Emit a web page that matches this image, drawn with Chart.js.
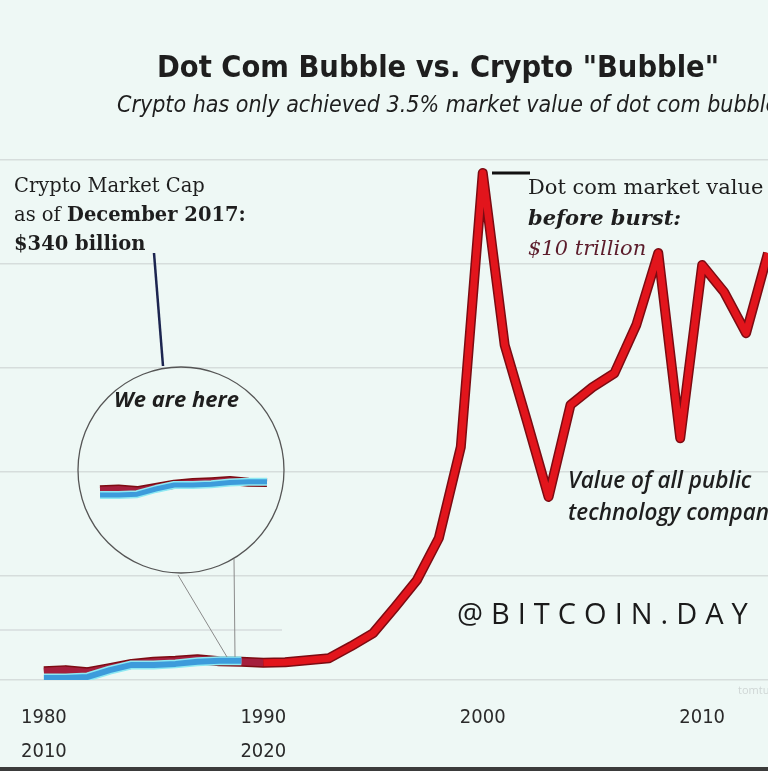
<!DOCTYPE html>
<html>
<head>
<meta charset="utf-8">
<script src="https://cdn.jsdelivr.net/npm/chart.js@4.4.1/dist/chart.umd.min.js"></script>
<style>
html, body { margin: 0; padding: 0; }
body { width: 768px; height: 771px; position: relative; overflow: hidden; background: #eef8f5; }
canvas { position: absolute; }
#mainChart { left: 0; top: 0; }
#insetChart { left: 80px; top: 430px; }
svg { position: absolute; left: 0; top: 0; }
.txt { position: absolute; white-space: nowrap; color: #1e1e1e; }
.narrow { font-family: "Liberation Sans Narrow", "DejaVu Sans Condensed", Roboto, sans-serif; }
.serif { font-family: "DejaVu Serif", "Liberation Serif", serif; }
.hand { font-family: "Open Sans", Lato, sans-serif; }
#bottomBar { position: absolute; left: 0; top: 767px; width: 768px; height: 4px; background: #3b3b3b; }
</style>
</head>
<body>
<canvas id="mainChart" width="768" height="771"></canvas>

<svg width="768" height="771">
  <!-- 放大镜圆圈和引线 -->
  <line x1="0" y1="630" x2="282" y2="630" stroke="#d6dddc" stroke-width="1.5"/>
  <circle cx="181" cy="470" r="103" fill="none" stroke="#555" stroke-width="1.3"/>
  <line x1="178" y1="575" x2="227" y2="657" stroke="#8a8a8a" stroke-width="1"/>
  <line x1="234" y1="559" x2="235" y2="657" stroke="#8a8a8a" stroke-width="1"/>
  <line x1="154" y1="253" x2="163" y2="366" stroke="#1c2550" stroke-width="2.5"/>
  <line x1="492" y1="173" x2="530" y2="173" stroke="#111" stroke-width="3"/>
</svg>

<canvas id="insetChart" width="200" height="100"></canvas>

<div class="txt narrow" style="left:157px; top:47px; font-size:30.5px; line-height:40px; font-weight:bold;">Dot Com Bubble vs. Crypto "Bubble"</div>
<div class="txt narrow" style="left:117px; top:89px; font-size:23px; line-height:30px; font-style:italic;">Crypto has only achieved 3.5% market value of dot com bubble</div>

<div class="txt serif" style="left:14px; top:171px; font-size:19.5px; line-height:29px;">
  Crypto Market Cap<br>as of <b>December 2017:</b><br><b>$340 billion</b>
</div>

<div class="txt serif" style="left:528px; top:172px; font-size:21px; line-height:30.5px;">
  Dot com market value<br><b><i>before burst:</i></b><br><i style="color:#5c1d2c;">$10 trillion</i>
</div>

<div class="txt hand" style="left:568px; top:464px; font-size:22.5px; line-height:32px; font-style:italic; font-weight:600;">
  Value of all public<br>technology companies
</div>

<div class="txt hand" style="left:114px; top:384px; font-size:22px; line-height:28px; font-style:italic; font-weight:bold;">We are here</div>

<div class="txt" style="left:457px; top:594px; font-size:29px; line-height:38px; font-family:'Open Sans', Lato, sans-serif; font-weight:500; letter-spacing:8px; color:#1a1a1a;">@BITCOIN.DAY</div>

<div class="txt" style="left:738px; top:683px; font-size:11px; line-height:14px; font-family:'Open Sans', sans-serif; color:#cfd6d5;">tomtu</div>

<div id="bottomBar"></div>

<script>
// 数据：年份和市值（万亿美元）
const years = [1980, 1981, 1982, 1983, 1984, 1985, 1986, 1987, 1988, 1989,
               1990, 1991, 1992, 1993, 1994, 1995, 1996, 1997, 1998, 1999,
               2000, 2001, 2002, 2003, 2004, 2005, 2006, 2007, 2008, 2009,
               2010, 2011, 2012, 2013];
const dotComValues = [0.17, 0.19, 0.15, 0.23, 0.31, 0.35, 0.37, 0.40, 0.36, 0.35,
                      0.33, 0.34, 0.38, 0.42, 0.65, 0.90, 1.40, 1.92, 2.73, 4.48,
                      9.75, 6.44, 5.00, 3.52, 5.29, 5.63, 5.90, 6.83, 8.21, 4.65,
                      7.98, 7.46, 6.67, 8.21];
// 加密货币 2010-2019，对齐到 1980-1989 的位置
const cryptoValues = [0.04, 0.04, 0.06, 0.19, 0.29, 0.29, 0.31, 0.35, 0.37, 0.37];
const tickYears = [1980, 1990, 2000, 2010];
const cryptoTickLabels = { 1980: '2010', 1990: '2020' };

const RED = '#e2151c';
const RED_EDGE = '#7c0b12';
const RED_CRYPTO = '#a51f3d';
const BLUE = '#3d9bdb';
const BLUE_GLOW = '#8ee9f2';
const NARROW = '"Liberation Sans Narrow", "DejaVu Sans Condensed", Roboto, sans-serif';

function toPoints(values) {
    return values.map((v, i) => ({ x: years[i], y: v }));
}

function lineSets(redWidth, blueWidth, cryptoCount) {
    const redPts = toPoints(dotComValues.slice(0, cryptoCount || dotComValues.length));
    const bluePts = toPoints(cryptoValues);
    return [
        { data: bluePts, borderColor: BLUE, borderWidth: blueWidth, order: 0 },
        { data: bluePts, borderColor: BLUE_GLOW, borderWidth: blueWidth + 3, order: 1 },
        {
            data: redPts, borderColor: RED, borderWidth: redWidth, order: 2,
            segment: { borderColor: ctx => ctx.p1.parsed.x <= 1990 ? RED_CRYPTO : undefined }
        },
        { data: redPts, borderColor: RED_EDGE, borderWidth: redWidth + 3, order: 3 }
    ].map(d => Object.assign(d, {
        pointRadius: 0,
        tension: 0,
        borderJoinStyle: 'round',
        borderCapStyle: 'butt'
    }));
}

// 主图
new Chart(document.getElementById('mainChart'), {
    type: 'line',
    data: { datasets: lineSets(7, 6) },
    options: {
        responsive: false,
        animation: false,
        layout: { padding: { top: 160, bottom: 4, left: 0, right: 0 } },
        plugins: { legend: { display: false }, tooltip: { enabled: false } },
        scales: {
            x: {
                type: 'linear',
                min: 1978,
                max: 2013,
                grid: { display: false, drawTicks: false },
                border: { display: false },
                afterBuildTicks: axis => { axis.ticks = tickYears.map(v => ({ value: v })); },
                afterFit: axis => { axis.height = 87; },
                ticks: {
                    autoSkip: false,
                    maxRotation: 0,
                    padding: 21,
                    color: '#2a2a2a',
                    font: { family: NARROW, size: 20, lineHeight: 1.7 },
                    callback: v => cryptoTickLabels[v] ? [String(v), cryptoTickLabels[v]] : String(v)
                }
            },
            y: {
                min: 0,
                max: 10,
                grid: { color: '#d6dddc', lineWidth: 1.5, drawTicks: false },
                border: { display: false },
                ticks: { display: false, stepSize: 2 },
                afterFit: axis => { axis.width = 0; }
            }
        }
    }
});

// 放大的局部图（圆圈里）
new Chart(document.getElementById('insetChart'), {
    type: 'line',
    data: { datasets: lineSets(6, 5, cryptoValues.length) },
    options: {
        responsive: false,
        animation: false,
        layout: { padding: 0 },
        plugins: { legend: { display: false }, tooltip: { enabled: false } },
        scales: {
            x: { type: 'linear', display: false, min: 1978.92, max: 1989.7 },
            y: { display: false, min: -0.835, max: 1.665 }
        }
    }
});
</script>
</body>
</html>
